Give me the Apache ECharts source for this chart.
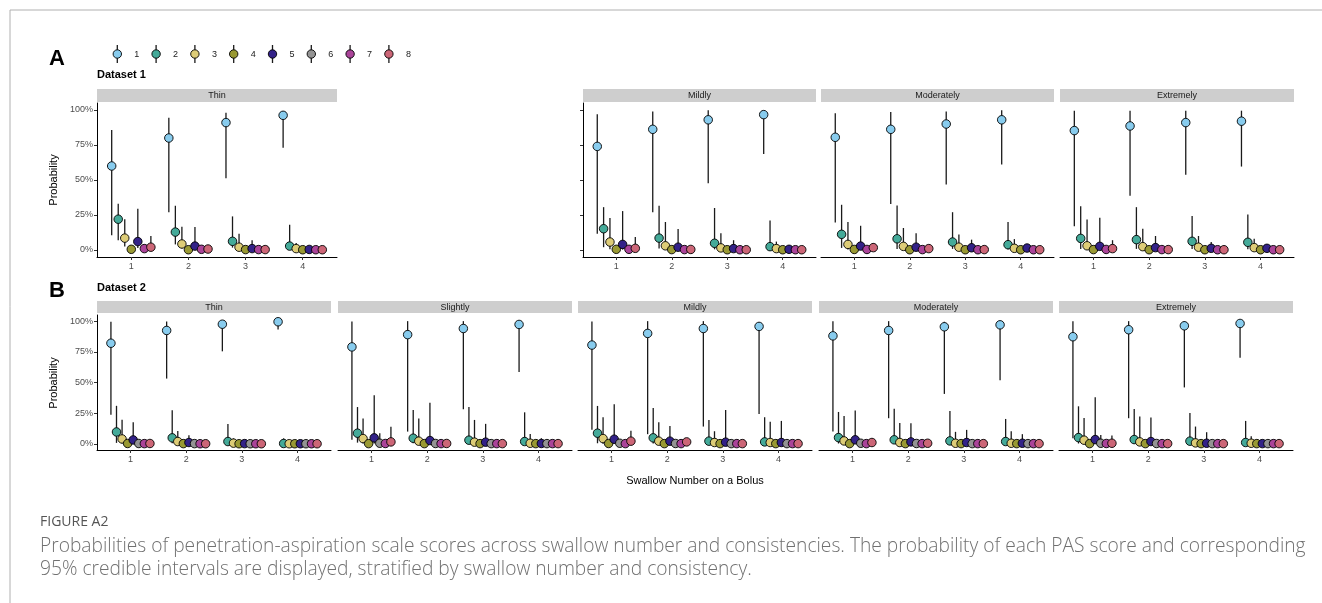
<!DOCTYPE html>
<html>
<head>
<meta charset="utf-8">
<script src="https://cdn.jsdelivr.net/npm/echarts@6/dist/echarts.min.js"></script>
<style>
  html, body { margin: 0; padding: 0; background: #fff; }
  #main { width: 1322px; height: 603px; }
</style>
</head>
<body>
<div id="main"></div>
<script>
// PAS scores and swallow numbers
const swallows = [1, 2, 3, 4];
const scoresA = [1, 2, 3, 4, 5, 7, 8];
const scoresB = [1, 2, 3, 4, 5, 6, 7, 8];
const scoreLabels = ['1', '2', '3', '4', '5', '6', '7', '8'];
const scoreColors = ['#88CCEE', '#44AA99', '#DDCC77', '#999933', '#332288', '#949494', '#AA4499', '#CC6677'];
const yTicks = [0, 0.25, 0.5, 0.75, 1];

// Dataset 1 (rows = swallow 1..4, cols = scoresA)
const A_thin_est = [
  [0.60, 0.22, 0.085, 0.005, 0.06, 0.01, 0.02],
  [0.80, 0.128, 0.043, 0.002, 0.028, 0.005, 0.007],
  [0.91, 0.062, 0.02, 0.003, 0.01, 0.003, 0.003],
  [0.962, 0.028, 0.01, 0.002, 0.004, 0.002, 0.002]
];
const A_thin_lo = [
  [0.105, 0.07, 0.025, 0, 0.015, 0, 0.003],
  [0.27, 0.04, 0.01, 0, 0.003, 0, 0],
  [0.513, 0.017, 0.002, 0, 0, 0, 0],
  [0.73, 0.003, 0, 0, 0, 0, 0]
];
const A_thin_hi = [
  [0.857, 0.33, 0.22, 0.02, 0.295, 0.04, 0.10],
  [0.945, 0.316, 0.166, 0.01, 0.164, 0.02, 0.03],
  [0.98, 0.24, 0.116, 0.01, 0.07, 0.01, 0.01],
  [0.99, 0.18, 0.05, 0.01, 0.02, 0.01, 0.01]
];

const A_mild_est = [
  [0.74, 0.152, 0.057, 0.005, 0.04, 0.005, 0.012],
  [0.862, 0.085, 0.03, 0.003, 0.02, 0.003, 0.004],
  [0.93, 0.048, 0.015, 0.002, 0.01, 0.002, 0.002],
  [0.967, 0.024, 0.01, 0.002, 0.005, 0.002, 0.002]
];
const A_mild_lo = [
  [0.116, 0.02, 0.005, 0, 0.003, 0, 0],
  [0.27, 0.01, 0.002, 0, 0, 0, 0],
  [0.477, 0.005, 0, 0, 0, 0, 0],
  [0.686, 0.002, 0, 0, 0, 0, 0]
];
const A_mild_hi = [
  [0.97, 0.306, 0.228, 0.02, 0.278, 0.02, 0.093],
  [0.99, 0.316, 0.2, 0.01, 0.15, 0.01, 0.02],
  [0.998, 0.30, 0.12, 0.01, 0.07, 0.01, 0.01],
  [0.995, 0.21, 0.06, 0.01, 0.02, 0.01, 0.01]
];

const A_mod_est = [
  [0.805, 0.112, 0.04, 0.004, 0.028, 0.004, 0.017],
  [0.862, 0.08, 0.026, 0.002, 0.02, 0.003, 0.01],
  [0.90, 0.057, 0.02, 0.002, 0.016, 0.002, 0.003],
  [0.93, 0.038, 0.012, 0.002, 0.014, 0.002, 0.002]
];
const A_mod_lo = [
  [0.197, 0.015, 0.003, 0, 0, 0, 0],
  [0.328, 0.008, 0, 0, 0, 0, 0],
  [0.468, 0.008, 0, 0, 0, 0, 0],
  [0.61, 0.003, 0, 0, 0, 0, 0]
];
const A_mod_hi = [
  [0.976, 0.323, 0.2, 0.02, 0.173, 0.02, 0.05],
  [0.985, 0.318, 0.157, 0.01, 0.12, 0.01, 0.03],
  [0.99, 0.27, 0.11, 0.01, 0.074, 0.01, 0.01],
  [0.998, 0.2, 0.078, 0.01, 0.03, 0.01, 0.01]
];

const A_ext_est = [
  [0.853, 0.083, 0.03, 0.003, 0.026, 0.004, 0.01],
  [0.886, 0.074, 0.024, 0.002, 0.017, 0.003, 0.003],
  [0.91, 0.062, 0.02, 0.002, 0.012, 0.002, 0.002],
  [0.92, 0.055, 0.017, 0.002, 0.012, 0.002, 0.002]
];
const A_ext_lo = [
  [0.169, 0.008, 0, 0, 0, 0, 0],
  [0.387, 0.008, 0, 0, 0, 0, 0],
  [0.537, 0.008, 0, 0, 0, 0, 0],
  [0.596, 0.005, 0, 0, 0, 0, 0]
];
const A_ext_hi = [
  [0.995, 0.313, 0.218, 0.01, 0.23, 0.01, 0.07],
  [0.995, 0.306, 0.152, 0.01, 0.1, 0.01, 0.02],
  [0.995, 0.242, 0.1, 0.01, 0.057, 0.01, 0.01],
  [0.995, 0.254, 0.08, 0.01, 0.03, 0.01, 0.01]
];

// Dataset 2 (rows = swallow 1..4, cols = scoresB)
const B_thin_est = [
  [0.82, 0.097, 0.04, 0.003, 0.032, 0.003, 0.002, 0.003],
  [0.924, 0.049, 0.019, 0.002, 0.011, 0.002, 0.001, 0.001],
  [0.975, 0.019, 0.006, 0.001, 0.002, 0.001, 0.001, 0.001],
  [0.995, 0.003, 0.001, 0.001, 0.001, 0.001, 0.001, 0.001]
];
const B_thin_lo = [
  [0.238, 0.008, 0.003, 0, 0, 0, 0, 0],
  [0.532, 0.005, 0, 0, 0, 0, 0, 0],
  [0.754, 0.002, 0, 0, 0, 0, 0, 0],
  [0.932, 0, 0, 0, 0, 0, 0, 0]
];
const B_thin_hi = [
  [0.995, 0.31, 0.197, 0.01, 0.176, 0.01, 0.01, 0.01],
  [0.997, 0.273, 0.105, 0.01, 0.07, 0.01, 0.005, 0.005],
  [0.997, 0.162, 0.045, 0.005, 0.01, 0.005, 0.005, 0.005],
  [0.999, 0.045, 0.005, 0.005, 0.005, 0.005, 0.005, 0.005]
];

const B_slight_est = [
  [0.79, 0.087, 0.043, 0.002, 0.049, 0.005, 0.003, 0.016],
  [0.89, 0.046, 0.022, 0.002, 0.027, 0.003, 0.002, 0.003],
  [0.94, 0.03, 0.014, 0.002, 0.014, 0.002, 0.002, 0.002],
  [0.973, 0.019, 0.005, 0.002, 0.003, 0.002, 0.002, 0.002]
];
const B_slight_lo = [
  [0.033, 0.01, 0.003, 0, 0.003, 0, 0, 0],
  [0.10, 0.005, 0, 0, 0, 0, 0, 0],
  [0.282, 0.003, 0, 0, 0, 0, 0, 0],
  [0.585, 0, 0, 0, 0, 0, 0, 0]
];
const B_slight_hi = [
  [0.997, 0.30, 0.206, 0.01, 0.396, 0.087, 0.01, 0.14],
  [1.0, 0.276, 0.206, 0.01, 0.336, 0.01, 0.01, 0.02],
  [1.0, 0.30, 0.195, 0.01, 0.163, 0.01, 0.005, 0.005],
  [1.0, 0.257, 0.081, 0.005, 0.046, 0.005, 0.005, 0.005]
];

const B_mild_est = [
  [0.805, 0.087, 0.043, 0.003, 0.038, 0.005, 0.002, 0.022],
  [0.90, 0.049, 0.022, 0.002, 0.022, 0.003, 0.002, 0.016],
  [0.94, 0.022, 0.011, 0.002, 0.014, 0.002, 0.002, 0.002],
  [0.957, 0.016, 0.011, 0.002, 0.011, 0.002, 0.002, 0.002]
];
const B_mild_lo = [
  [0.114, 0.005, 0, 0, 0, 0, 0, 0],
  [0.079, 0.003, 0, 0, 0, 0, 0, 0],
  [0.141, 0, 0, 0, 0, 0, 0, 0],
  [0.244, 0, 0, 0, 0, 0, 0, 0]
];
const B_mild_hi = [
  [0.997, 0.309, 0.217, 0.01, 0.322, 0.01, 0.01, 0.106],
  [1.0, 0.293, 0.176, 0.01, 0.146, 0.02, 0.01, 0.03],
  [1.0, 0.195, 0.103, 0.01, 0.276, 0.01, 0.01, 0.01],
  [0.99, 0.217, 0.18, 0.01, 0.187, 0.01, 0.01, 0.01]
];

const B_mod_est = [
  [0.88, 0.051, 0.024, 0.002, 0.033, 0.005, 0.002, 0.011],
  [0.924, 0.033, 0.011, 0.002, 0.016, 0.003, 0.002, 0.005],
  [0.954, 0.024, 0.005, 0.002, 0.011, 0.002, 0.002, 0.002],
  [0.97, 0.019, 0.005, 0.002, 0.005, 0.002, 0.002, 0.002]
];
const B_mod_lo = [
  [0.10, 0.003, 0, 0, 0, 0, 0, 0],
  [0.209, 0, 0, 0, 0, 0, 0, 0],
  [0.407, 0, 0, 0, 0, 0, 0, 0],
  [0.518, 0, 0, 0, 0, 0, 0, 0]
];
const B_mod_hi = [
  [1.0, 0.26, 0.228, 0.01, 0.271, 0.01, 0.01, 0.03],
  [1.0, 0.287, 0.17, 0.01, 0.168, 0.01, 0.01, 0.01],
  [0.995, 0.268, 0.098, 0.01, 0.114, 0.01, 0.01, 0.01],
  [0.995, 0.203, 0.103, 0.01, 0.079, 0.01, 0.01, 0.01]
];

const B_ext_est = [
  [0.873, 0.051, 0.03, 0.002, 0.035, 0.005, 0.003, 0.005],
  [0.93, 0.035, 0.016, 0.002, 0.019, 0.003, 0.002, 0.002],
  [0.962, 0.022, 0.008, 0.002, 0.005, 0.002, 0.002, 0.002],
  [0.981, 0.011, 0.005, 0.002, 0.002, 0.002, 0.002, 0.002]
];
const B_ext_lo = [
  [0.046, 0.003, 0, 0, 0, 0, 0, 0],
  [0.209, 0, 0, 0, 0, 0, 0, 0],
  [0.46, 0, 0, 0, 0, 0, 0, 0],
  [0.702, 0, 0, 0, 0, 0, 0, 0]
];
const B_ext_hi = [
  [1.0, 0.306, 0.211, 0.01, 0.379, 0.073, 0.01, 0.068],
  [1.0, 0.285, 0.222, 0.01, 0.214, 0.01, 0.01, 0.01],
  [1.0, 0.252, 0.141, 0.01, 0.095, 0.01, 0.01, 0.01],
  [1.0, 0.187, 0.062, 0.01, 0.01, 0.01, 0.01, 0.01]
];

// layout of the facets
const rowA = { top: 103, height: 154, stripY: 89, stripH: 13 };
const rowB = { top: 315, height: 135, stripY: 301, stripH: 12 };
const panels = [
  { row: rowA, scores: scoresA, name: 'Thin', est: A_thin_est, lo: A_thin_lo, hi: A_thin_hi, left: 97, width: 240, yAxis: 2 },
  { row: rowA, scores: scoresA, name: 'Mildly', est: A_mild_est, lo: A_mild_lo, hi: A_mild_hi, left: 583, width: 233, yAxis: 1 },
  { row: rowA, scores: scoresA, name: 'Moderately', est: A_mod_est, lo: A_mod_lo, hi: A_mod_hi, left: 821, width: 233, yAxis: 0 },
  { row: rowA, scores: scoresA, name: 'Extremely', est: A_ext_est, lo: A_ext_lo, hi: A_ext_hi, left: 1060, width: 234, yAxis: 0 },
  { row: rowB, scores: scoresB, name: 'Thin', est: B_thin_est, lo: B_thin_lo, hi: B_thin_hi, left: 97, width: 234, yAxis: 2 },
  { row: rowB, scores: scoresB, name: 'Slightly', est: B_slight_est, lo: B_slight_lo, hi: B_slight_hi, left: 338, width: 234, yAxis: 0 },
  { row: rowB, scores: scoresB, name: 'Mildly', est: B_mild_est, lo: B_mild_lo, hi: B_mild_hi, left: 578, width: 234, yAxis: 0 },
  { row: rowB, scores: scoresB, name: 'Moderately', est: B_mod_est, lo: B_mod_lo, hi: B_mod_hi, left: 819, width: 234, yAxis: 0 },
  { row: rowB, scores: scoresB, name: 'Extremely', est: B_ext_est, lo: B_ext_lo, hi: B_ext_hi, left: 1059, width: 234, yAxis: 0 }
];

const FONT = 'Liberation Sans, Arial, sans-serif';
const grids = [], xAxes = [], yAxes = [], series = [], graphics = [];

panels.forEach((p, gi) => {
  grids.push({ left: p.left, top: p.row.top, width: p.width, height: p.row.height });
  xAxes.push({
    type: 'value', gridIndex: gi, min: 0.4, max: 4.6,
    axisLine: { show: true, onZero: false, lineStyle: { color: '#000', width: 1 } },
    axisTick: { show: true, customValues: swallows, length: 3, lineStyle: { color: '#333' } },
    axisLabel: { show: true, customValues: swallows, color: '#4d4d4d', fontSize: 9, fontFamily: FONT, margin: 5 },
    splitLine: { show: false }
  });
  yAxes.push({
    type: 'value', gridIndex: gi, min: -0.05, max: 1.05,
    axisLine: { show: p.yAxis > 0, lineStyle: { color: '#000', width: 1 } },
    axisTick: { show: p.yAxis > 0, customValues: yTicks, length: 3, lineStyle: { color: '#333' } },
    axisLabel: {
      show: p.yAxis > 1, customValues: yTicks, color: '#4d4d4d', fontSize: 9, fontFamily: FONT, margin: 4,
      formatter: v => Math.round(v * 100) + '%'
    },
    splitLine: { show: false }
  });

  const n = p.scores.length;
  const bars = [], pts = [];
  swallows.forEach((sw, si) => {
    p.scores.forEach((sc, ci) => {
      const x = sw + (ci - (n - 1) / 2) * 0.8 / n;
      bars.push([x, p.lo[si][ci], p.hi[si][ci]]);
      pts.push({ value: [x, p.est[si][ci]], itemStyle: { color: scoreColors[sc - 1] } });
    });
  });
  series.push({
    type: 'custom', xAxisIndex: gi, yAxisIndex: gi, z: 2, data: bars,
    encode: { x: 0, y: [1, 2] },
    renderItem: (params, api) => {
      const a = api.coord([api.value(0), api.value(1)]);
      const b = api.coord([api.value(0), api.value(2)]);
      return { type: 'line', shape: { x1: a[0], y1: a[1], x2: b[0], y2: b[1] },
        style: { stroke: '#1a1a1a', lineWidth: 1.3 } };
    }
  });
  series.push({
    type: 'scatter', xAxisIndex: gi, yAxisIndex: gi, z: 3, data: pts,
    symbol: 'circle', symbolSize: 8.5,
    itemStyle: { borderColor: '#000', borderWidth: 0.9, opacity: 1 }
  });

  // facet strip
  graphics.push({ type: 'rect', shape: { x: p.left, y: p.row.stripY, width: p.width, height: p.row.stripH },
    style: { fill: '#cecece' } });
  graphics.push({ type: 'text', x: p.left + p.width / 2, y: p.row.stripY + p.row.stripH / 2 + 0.5,
    style: { text: p.name, fill: '#1a1a1a', font: '9px ' + FONT, align: 'center', verticalAlign: 'middle' } });
});

// legend drawn as pointrange glyphs
scoreLabels.forEach((lab, i) => {
  const cx = 117.3 + i * 38.8;
  graphics.push({ type: 'line', shape: { x1: cx, y1: 45, x2: cx, y2: 63 }, style: { stroke: '#1a1a1a', lineWidth: 1.3 } });
  graphics.push({ type: 'circle', shape: { cx: cx, cy: 54, r: 4.2 },
    style: { fill: scoreColors[i], stroke: '#000', lineWidth: 0.9 } });
  graphics.push({ type: 'text', x: cx + 19.5, y: 54.5,
    style: { text: lab, fill: '#1a1a1a', font: '9px ' + FONT, align: 'center', verticalAlign: 'middle' } });
});

// labels, titles, frame and caption
const txt = (x, y, text, font, fill, align, rot) => ({
  type: 'text', x: x, y: y, rotation: rot || 0,
  style: { text: text, font: font, fill: fill, align: align || 'left', verticalAlign: 'middle' }
});
graphics.push(txt(49, 59, 'A', 'bold 22px ' + FONT, '#000'));
graphics.push(txt(49, 291, 'B', 'bold 22px ' + FONT, '#000'));
graphics.push(txt(97, 75, 'Dataset 1', 'bold 11px ' + FONT, '#000'));
graphics.push(txt(97, 288, 'Dataset 2', 'bold 11px ' + FONT, '#000'));
graphics.push(txt(54, 180, 'Probability', '11px ' + FONT, '#000', 'center', Math.PI / 2));
graphics.push(txt(54, 383, 'Probability', '11px ' + FONT, '#000', 'center', Math.PI / 2));
graphics.push(txt(695, 481, 'Swallow Number on a Bolus', '11px ' + FONT, '#000', 'center'));
graphics.push({ type: 'line', shape: { x1: 10, y1: 10, x2: 1322, y2: 10 }, style: { stroke: '#b0b0b0', lineWidth: 1 } });
graphics.push({ type: 'line', shape: { x1: 10, y1: 10, x2: 10, y2: 603 }, style: { stroke: '#b0b0b0', lineWidth: 1 } });
graphics.push(txt(40, 522, 'FIGURE A2', '14px Open Sans, sans-serif', '#555'));
graphics.push(txt(40, 547, 'Probabilities of penetration-aspiration scale scores across swallow number and consistencies. The probability of each PAS score and corresponding',
  '300 19.2px Open Sans, sans-serif', '#707070'));
graphics.push(txt(40, 570, '95% credible intervals are displayed, stratified by swallow number and consistency.',
  '300 19.2px Open Sans, sans-serif', '#707070'));

const chart = echarts.init(document.getElementById('main'));
chart.setOption({
  animation: false,
  backgroundColor: '#fff',
  textStyle: { fontFamily: FONT },
  grid: grids,
  xAxis: xAxes,
  yAxis: yAxes,
  series: series,
  graphic: graphics
});
</script>
</body>
</html>
